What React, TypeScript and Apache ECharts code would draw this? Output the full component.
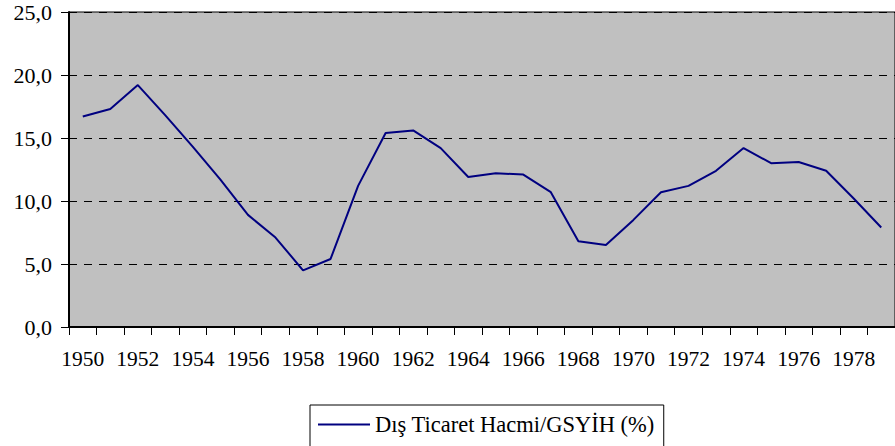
import React, { useEffect, useRef } from "react";
import * as echarts from "echarts";

const years: string[] = [
  "1950", "1951", "1952", "1953", "1954", "1955", "1956", "1957", "1958", "1959",
  "1960", "1961", "1962", "1963", "1964", "1965", "1966", "1967", "1968", "1969",
  "1970", "1971", "1972", "1973", "1974", "1975", "1976", "1977", "1978", "1979",
];

const ratio: number[] = [
  16.7, 17.3, 19.2, 16.8, 14.3, 11.7, 8.9, 7.1, 4.5, 5.4,
  11.2, 15.4, 15.6, 14.2, 11.9, 12.2, 12.1, 10.7, 6.8, 6.5,
  8.5, 10.7, 11.2, 12.4, 14.2, 13.0, 13.1, 12.4, 10.2, 7.9,
];

const seriesName = "Dış Ticaret Hacmi/GSYİH (%)";
const FONT = "Liberation Serif";

export default function App() {
  const ref = useRef<HTMLDivElement>(null);

  useEffect(() => {
    if (!ref.current) return;
    const chart = echarts.init(ref.current, undefined, { renderer: "svg" });
    chart.setOption({
      animation: false,
      backgroundColor: "#ffffff",
      textStyle: { fontFamily: FONT, color: "#000", fontSize: 22 },
      grid: {
        left: 69,
        top: 12,
        right: -10,
        bottom: 119,
        show: true,
        backgroundColor: "#c0c0c0",
        borderColor: "#000",
        borderWidth: 1,
      },
      legend: {
        show: true,
        left: 310,
        top: 405,
        orient: "horizontal",
        borderColor: "#000",
        borderWidth: 1,
        padding: [8, 9, 14, 8],
        itemWidth: 52,
        itemHeight: 2,
        icon: "rect",
        textStyle: { fontFamily: FONT, fontSize: 22.5, color: "#000" },
        data: [{ name: seriesName, icon: "rect" }],
      },
      xAxis: {
        type: "category",
        data: years,
        boundaryGap: true,
        axisLine: { show: true, lineStyle: { color: "#000", width: 2 } },
        axisTick: { show: true, interval: 0, length: 8, inside: false, lineStyle: { color: "#000", width: 1 } },
        axisLabel: {
          interval: 1,
          margin: 21,
          fontSize: 21.5,
          fontFamily: FONT,
          color: "#000",
        },
        splitLine: { show: false },
      },
      yAxis: {
        type: "value",
        min: 0,
        max: 25,
        interval: 5,
        axisLine: { show: true, lineStyle: { color: "#000", width: 2 } },
        axisTick: { show: true, length: 8, lineStyle: { color: "#000", width: 1 } },
        axisLabel: {
          margin: 17,
          fontSize: 22,
          fontFamily: FONT,
          color: "#000",
          formatter: (v: number) => v.toFixed(1).replace(".", ","),
        },
        splitLine: { show: true, lineStyle: { color: "#000", width: 1, type: [8, 7] } },
      },
      series: [
        {
          name: seriesName,
          type: "line",
          data: ratio,
          symbol: "none",
          showSymbol: false,
          lineStyle: { color: "#000080", width: 2 },
          itemStyle: { color: "#000080" },
        },
      ],
    });
    return () => chart.dispose();
  }, []);

  return (
    <div
      ref={ref}
      style={{ position: "fixed", left: 0, top: 0, width: 895, height: 446 }}
    />
  );
}
